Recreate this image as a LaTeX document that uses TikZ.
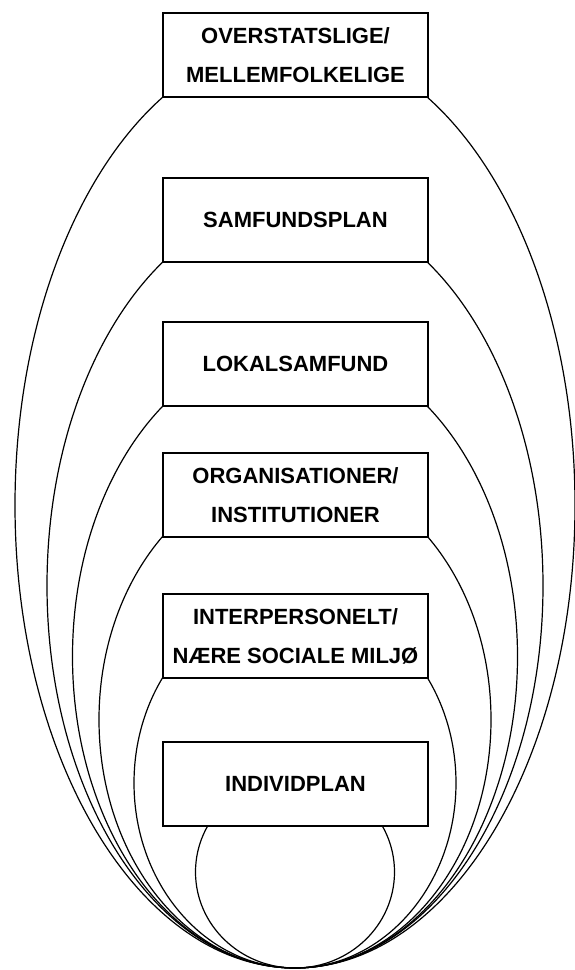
\documentclass[tikz,border=0pt]{standalone}
\usepackage{fontspec}
\setmainfont{Liberation Sans}
\usepackage{tikz}
\usetikzlibrary{positioning}

\begin{document}
\begin{tikzpicture}[node distance=30pt,
	level/.style={draw,fill=white,line width=0.6pt,minimum width=132.5pt,minimum height=42pt,
		inner sep=0pt,outer sep=0pt,align=center,font=\bfseries\fontsize{11}{19.5}\selectfont},
	ring/.style={draw,line width=0.6pt}]
	\useasboundingbox (0,0) rectangle (287pt,485pt);
	\coordinate (bund) at (147.5pt,1pt);
	% nested ellipses, all touching at the bottom
	\foreach \a/\b in {140/231.4,124/191.2,111.25/155.7,98/124.2,80.5/92.5,49.75/48}
		\path[ring] ([yshift=\b pt]bund) ellipse [x radius=\a pt,y radius=\b pt];
	\node[level] (niv_1) at (147.75pt,457.5pt) {OVERSTATSLIGE/\\MELLEMFOLKELIGE};
	\node[level] (niv_2) [below=40.5pt of niv_1] {SAMFUNDSPLAN};
	\node[level] (niv_3) [below=of niv_2] {LOKALSAMFUND};
	\node[level] (niv_4) [below=23.5pt of niv_3] {ORGANISATIONER/\\INSTITUTIONER};
	\node[level] (niv_5) [below=28.5pt of niv_4] {INTERPERSONELT/\\NÆRE SOCIALE MILJØ};
	\node[level] (niv_6) [below=32pt of niv_5] {INDIVIDPLAN};
\end{tikzpicture}
\end{document}
